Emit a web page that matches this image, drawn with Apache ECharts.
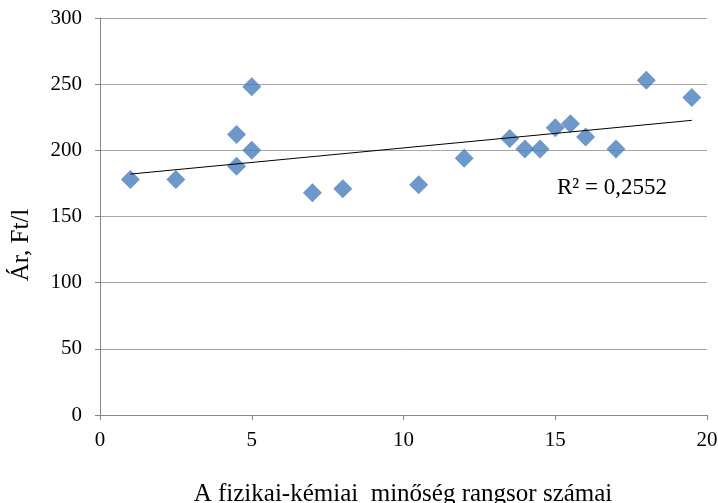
<!DOCTYPE html>
<html><head><meta charset="utf-8">
<script src="https://cdn.jsdelivr.net/npm/echarts@6/dist/echarts.min.js"></script>
<style>html,body{margin:0;padding:0;background:#fff}#c{width:718px;height:503px}</style>
</head><body><div id="c"></div>
<script>
const xValues = [1, 2.5, 4.5, 4.5, 5, 5, 7, 8, 10.5, 12, 13.5, 14, 14.5, 15, 15.5, 16, 17, 18, 19.5];
const yValues = [178, 178, 212, 188, 248, 200, 168, 171, 174, 194, 209, 201, 201, 217, 220, 210, 201, 253, 240];
const xTitle = 'A fizikai-kémiai  minőség rangsor számai';
const yTitle = 'Ár, Ft/l';
const r2Label = 'R² = 0,2552';

const pts = xValues.map((x, i) => [x, yValues[i]]);
const n = xValues.length;
const mx = xValues.reduce((a, b) => a + b, 0) / n;
const my = yValues.reduce((a, b) => a + b, 0) / n;
let sxy = 0, sxx = 0;
for (let i = 0; i < n; i++) { sxy += (xValues[i] - mx) * (yValues[i] - my); sxx += (xValues[i] - mx) ** 2; }
const slope = sxy / sxx, icpt = my - slope * mx;
const xmin = Math.min(...xValues), xmax = Math.max(...xValues);
const trend = [[xmin, icpt + slope * xmin], [xmax, icpt + slope * xmax]];

const font = '"Liberation Serif","Times New Roman",serif';
const chart = echarts.init(document.getElementById('c'));
chart.setOption({
  animation: false,
  grid: { left: 100, right: 11, top: 18, bottom: 88, outerBoundsMode: 'none', containLabel: false },
  xAxis: {
    type: 'value', min: 0, max: 20, interval: 5,
    axisLine: { lineStyle: { color: '#868686' } },
    axisTick: { show: true, length: 5, lineStyle: { color: '#868686' } },
    axisLabel: { fontFamily: font, fontSize: 21, color: '#000', margin: 15 },
    splitLine: { show: false }
  },
  yAxis: {
    type: 'value', min: 0, max: 300, interval: 50,
    axisLine: { show: true, lineStyle: { color: '#868686' } },
    axisTick: { show: true, length: 5, lineStyle: { color: '#868686' } },
    axisLabel: { fontFamily: font, fontSize: 21, color: '#000', margin: 18 },
    splitLine: { lineStyle: { color: '#a6a6a6' } }
  },
  series: [
    { type: 'scatter', data: pts, symbol: 'diamond', symbolSize: [19, 19],
      itemStyle: { color: '#4a7ebb' }, z: 3 },
    { type: 'line', data: trend, showSymbol: false, symbol: 'none',
      lineStyle: { color: '#000', width: 1 }, z: 4 }
  ],
  graphic: [
    { type: 'text', left: 557, top: 176,
      style: { text: r2Label, font: '23px ' + font, fill: '#000' } },
    { type: 'text', x: 21, y: 245, rotation: Math.PI / 2,
      style: { text: yTitle, font: '25px ' + font, fill: '#000', align: 'center', verticalAlign: 'middle' } },
    { type: 'text', x: 403, y: 494,
      style: { text: xTitle, font: '25px ' + font, fill: '#000', align: 'center', verticalAlign: 'middle' } }
  ]
});
</script></body></html>
